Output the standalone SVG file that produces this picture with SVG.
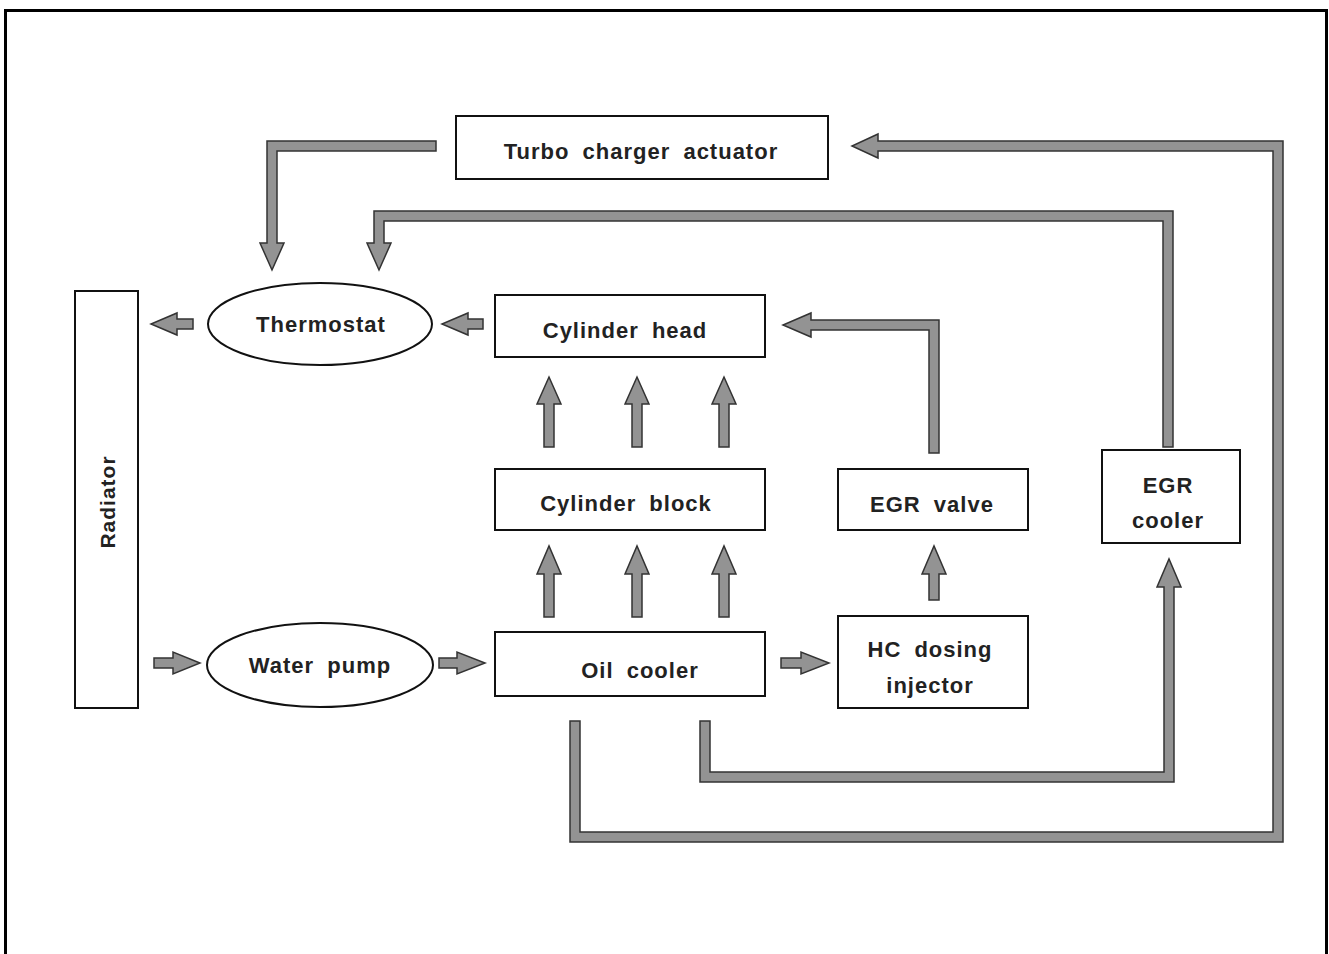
<svg xmlns="http://www.w3.org/2000/svg" width="1329" height="954" viewBox="0 0 1329 954">
<style>
.box{fill:#fff;stroke:#111;stroke-width:2}
.arr{fill:#939393;stroke:#333;stroke-width:1.5;stroke-linejoin:miter}
.t{font-family:"Liberation Sans",Arial,sans-serif;font-weight:bold;font-size:22px;fill:#222;letter-spacing:1px;word-spacing:6px;text-anchor:middle}
</style>
<rect width="1329" height="954" fill="#fff"/>
<path d="M5.5,954 V10.5 H1326.5 V954" fill="none" stroke="#000" stroke-width="3"/>

<g id="connectors">
<polygon class="arr" points="436,141 267,141 267,243 260,243 272,270 284,243 277,243 277,151 436,151"/>
<polygon class="arr" points="1173,447 1173,211 374,211 374,243 367,243 379,270 391,243 384,243 384,221 1163,221 1163,447"/>
<polygon class="arr" points="570,721 570,842 1283,842 1283,141 878,141 878,134 852,146 878,158 878,151 1273,151 1273,832 580,832 580,721"/>
<polygon class="arr" points="700,721 700,782 1174,782 1174,587 1181,587 1169,559 1157,587 1164,587 1164,772 710,772 710,721"/>
<polygon class="arr" points="939,453 939,320 811,320 811,313 783,325 811,337 811,330 929,330 929,453"/>
<polygon class="arr" points="929,600 929,574 922,574 934,546 946,574 939,574 939,600"/>
<polygon class="arr" points="544,447 544,404 537,404 549,377 561,404 554,404 554,447"/>
<polygon class="arr" points="632,447 632,404 625,404 637,377 649,404 642,404 642,447"/>
<polygon class="arr" points="719,447 719,404 712,404 724,377 736,404 729,404 729,447"/>
<polygon class="arr" points="544,617 544,574 537,574 549,546 561,574 554,574 554,617"/>
<polygon class="arr" points="632,617 632,574 625,574 637,546 649,574 642,574 642,617"/>
<polygon class="arr" points="719,617 719,574 712,574 724,546 736,574 729,574 729,617"/>
<polygon class="arr" points="193,319 177,319 177,313 151,324 177,335 177,329 193,329"/>
<polygon class="arr" points="483,319 468,319 468,313 442,324 468,335 468,329 483,329"/>
<polygon class="arr" points="154,658 173,658 173,652 200,663 173,674 173,668 154,668"/>
<polygon class="arr" points="439,658 457,658 457,652 485,663 457,674 457,668 439,668"/>
<polygon class="arr" points="781,658 801,658 801,652 829,663 801,674 801,668 781,668"/>
</g>

<g id="turbo">
<rect class="box" x="456" y="116" width="372" height="63"/>
<text class="t" x="641" y="159">Turbo charger actuator</text>
</g>
<g id="radiator">
<rect class="box" x="75" y="291" width="63" height="417"/>
<text class="t" x="0" y="0" transform="translate(115,502) rotate(-90)" style="font-size:21px">Radiator</text>
</g>
<g id="thermostat">
<ellipse class="box" cx="320" cy="324" rx="112" ry="41"/>
<text class="t" x="321" y="332">Thermostat</text>
</g>
<g id="cylinder-head">
<rect class="box" x="495" y="295" width="270" height="62"/>
<text class="t" x="625" y="338">Cylinder head</text>
</g>
<g id="cylinder-block">
<rect class="box" x="495" y="469" width="270" height="61"/>
<text class="t" x="626" y="511">Cylinder block</text>
</g>
<g id="egr-valve">
<rect class="box" x="838" y="469" width="190" height="61"/>
<text class="t" x="932" y="512">EGR valve</text>
</g>
<g id="egr-cooler">
<rect class="box" x="1102" y="450" width="138" height="93"/>
<text class="t" x="1168" y="493">EGR</text>
<text class="t" x="1168" y="528">cooler</text>
</g>
<g id="water-pump">
<ellipse class="box" cx="320" cy="665" rx="113" ry="42"/>
<text class="t" x="320" y="673">Water pump</text>
</g>
<g id="oil-cooler">
<rect class="box" x="495" y="632" width="270" height="64"/>
<text class="t" x="640" y="678">Oil cooler</text>
</g>
<g id="hc-dosing">
<rect class="box" x="838" y="616" width="190" height="92"/>
<text class="t" x="930" y="657">HC dosing</text>
<text class="t" x="930" y="693">injector</text>
</g>
</svg>
